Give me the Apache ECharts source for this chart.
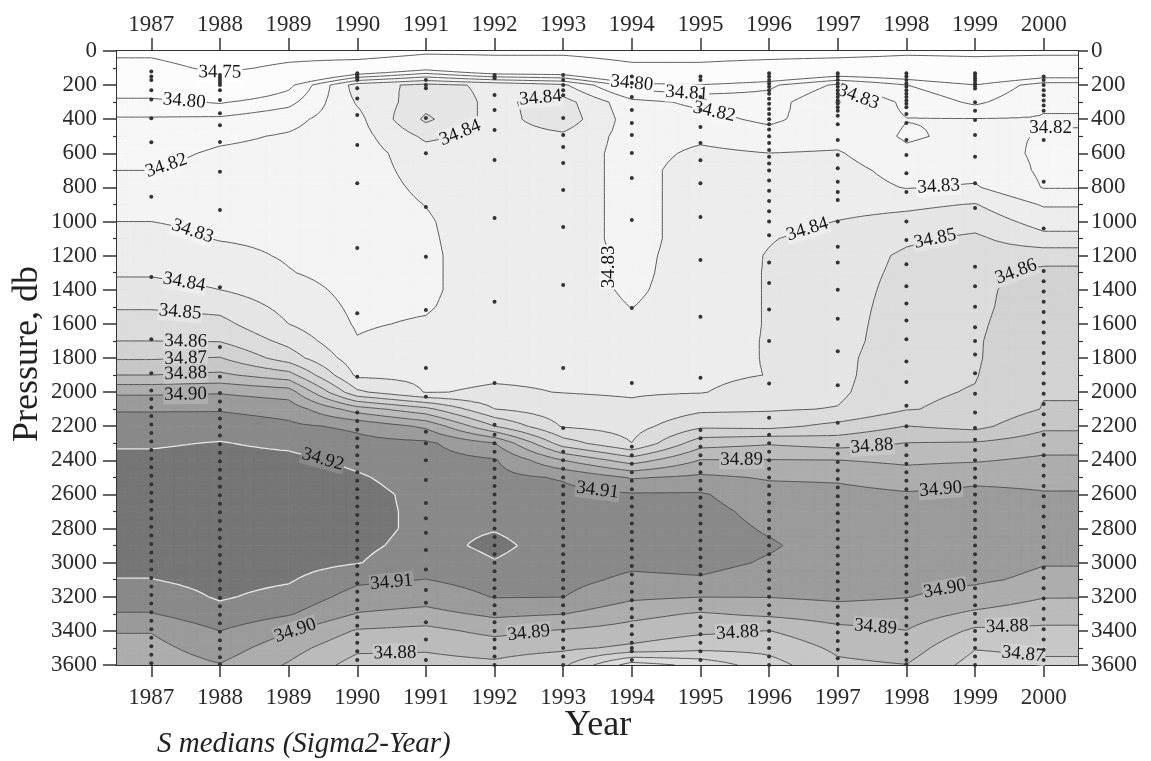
<!DOCTYPE html>
<html>
<head>
<meta charset="utf-8">
<script src="https://cdn.jsdelivr.net/npm/echarts@6.0.0/dist/echarts.min.js"></script>
<style>
html,body{margin:0;padding:0;background:#fff;}
#chart{width:1151px;height:761px;}
</style>
</head>
<body>
<div id="chart"></div>
<script>
// ---------------- data ----------------
const years = [1987,1988,1989,1990,1991,1992,1993,1994,1995,1996,1997,1998,1999,2000];
const tickYears = [1987,1988,1989,1990,1991,1992,1993,1994,1995,1996,1997,1998,1999,2000];
const pressures = [0,100,200,300,400,500,600,700,800,900,1000,1100,1200,1300,1400,1500,1600,1700,1800,1900,2000,2100,2200,2300,2400,2500,2600,2700,2800,2900,3000,3100,3200,3300,3400,3500,3600];

// median salinity profiles (one per year, one value per pressure level)
const s1987 = [34.74,34.765,34.79,34.803,34.811,34.814,34.817,34.820,34.823,34.826,34.830,34.833,34.836,34.839,34.843,34.849,34.855,34.860,34.869,34.880,34.898,34.909,34.915,34.919,34.922,34.924,34.925,34.925,34.925,34.924,34.922,34.9198,34.915,34.9095,34.9005,34.897,34.894];
const s1988 = [34.72,34.74,34.78,34.799,34.812,34.818,34.8215,34.8235,34.825,34.8265,34.828,34.8295,34.833,34.837,34.840,34.847,34.853,34.8595,34.8705,34.882,34.899,34.909,34.916,34.9205,34.923,34.925,34.926,34.926,34.926,34.925,34.924,34.923,34.921,34.917,34.910,34.905,34.8995];
const s1989 = [34.73,34.76,34.797,34.807,34.817,34.821,34.823,34.824,34.825,34.826,34.827,34.828,34.829,34.8305,34.834,34.837,34.840,34.847,34.855,34.874,34.895,34.906,34.912,34.918,34.9225,34.925,34.926,34.926,34.926,34.925,34.924,34.921,34.917,34.911,34.901,34.894,34.889];
const s1990 = [34.72,34.78,34.835,34.831,34.827,34.826,34.825,34.825,34.825,34.825,34.825,34.825,34.826,34.826,34.827,34.828,34.829,34.8305,34.834,34.838,34.852,34.885,34.908,34.913,34.918,34.921,34.923,34.923,34.923,34.922,34.9205,34.912,34.906,34.8995,34.889,34.882,34.876];
const s1991 = [34.74,34.795,34.843,34.846,34.852,34.842,34.836,34.834,34.832,34.8302,34.829,34.8285,34.828,34.828,34.828,34.829,34.831,34.834,34.836,34.838,34.8395,34.873,34.898,34.912,34.914,34.916,34.9175,34.918,34.918,34.917,34.914,34.9098,34.904,34.897,34.887,34.881,34.877];
const s1992 = [34.74,34.78,34.838,34.838,34.836,34.836,34.836,34.836,34.836,34.836,34.836,34.836,34.836,34.836,34.836,34.836,34.837,34.837,34.838,34.839,34.841,34.8502,34.8702,34.9003,34.911,34.913,34.915,34.917,34.9195,34.922,34.9195,34.914,34.9105,34.902,34.893,34.884,34.878];
const s1993 = [34.74,34.78,34.832,34.844,34.846,34.838,34.836,34.836,34.836,34.836,34.836,34.836,34.836,34.836,34.836,34.836,34.837,34.837,34.838,34.839,34.8398,34.844,34.849,34.865,34.8902,34.909,34.913,34.915,34.916,34.916,34.915,34.913,34.9102,34.9003,34.889,34.882,34.872];
const s1994 = [34.73,34.76,34.805,34.823,34.825,34.826,34.826,34.826,34.826,34.826,34.826,34.826,34.827,34.827,34.828,34.8298,34.833,34.836,34.837,34.838,34.839,34.842,34.846,34.8502,34.875,34.899,34.911,34.914,34.916,34.915,34.912,34.908,34.902,34.893,34.886,34.878,34.845];
const s1995 = [34.73,34.76,34.801,34.818,34.823,34.828,34.832,34.835,34.835,34.835,34.835,34.835,34.835,34.836,34.836,34.836,34.836,34.837,34.837,34.838,34.8395,34.848,34.858,34.876,34.8905,34.902,34.911,34.913,34.914,34.914,34.913,34.909,34.9002,34.889,34.882,34.873,34.853];
const s1996 = [34.73,34.77,34.808,34.815,34.818,34.824,34.8301,34.832,34.833,34.835,34.837,34.8395,34.8405,34.8405,34.8405,34.8405,34.8405,34.8405,34.8405,34.8402,34.844,34.849,34.857,34.879,34.8905,34.899,34.904,34.907,34.909,34.911,34.909,34.905,34.9003,34.892,34.8798,34.873,34.866];
const s1997 = [34.73,34.78,34.822,34.8305,34.826,34.826,34.831,34.834,34.835,34.837,34.8402,34.843,34.845,34.846,34.846,34.846,34.846,34.846,34.847,34.847,34.848,34.8505,34.863,34.876,34.8902,34.8985,34.903,34.905,34.906,34.906,34.905,34.904,34.902,34.895,34.887,34.882,34.878];
const s1998 = [34.74,34.78,34.8102,34.818,34.8202,34.819,34.8215,34.826,34.8295,34.838,34.843,34.8485,34.8515,34.852,34.853,34.854,34.855,34.856,34.857,34.858,34.8585,34.8595,34.8702,34.8803,34.888,34.895,34.901,34.903,34.904,34.904,34.904,34.903,34.9003,34.895,34.8898,34.885,34.8798];
const s1999 = [34.74,34.77,34.8005,34.808,34.8205,34.822,34.824,34.827,34.831,34.8405,34.846,34.852,34.855,34.857,34.858,34.858,34.8585,34.859,34.859,34.8595,34.8605,34.862,34.867,34.881,34.889,34.898,34.902,34.904,34.905,34.905,34.904,34.9015,34.8965,34.888,34.878,34.8705,34.866];
const s2000 = [34.74,34.78,34.815,34.819,34.8205,34.8195,34.8185,34.8185,34.8195,34.829,34.836,34.843,34.856,34.8625,34.864,34.865,34.866,34.867,34.868,34.869,34.8695,34.8705,34.878,34.8855,34.892,34.898,34.9005,34.903,34.903,34.902,34.9005,34.898,34.8905,34.884,34.878,34.872,34.868];
const profiles = [s1987,s1988,s1989,s1990,s1991,s1992,s1993,s1994,s1995,s1996,s1997,s1998,s1999,s2000];

// contour levels and their shading (lowest to highest)
const levels = [34.75,34.80,34.81,34.82,34.83,34.84,34.85,34.86,34.87,34.88,34.89,34.90,34.91,34.92];
const bandColors = ['#ffffff','#fcfcfc','#f9f9f9','#f7f7f7','#f4f4f4','#ededed','#e5e5e5','#dcdcdc','#d2d2d2','#c7c7c7','#bbbbbb','#adadad','#9b9b9b','#898989','#767676'];

// contour labels
const labelYears = [1988.0,1987.48,1987.22,1987.6,1987.48,1987.42,1987.5,1987.5,1987.5,1987.5,1989.5,1991.5,1992.67,1994.0,1994.8,1995.2,1997.3,2000.1,1998.47,1996.56,1998.42,1999.6,1993.75,1995.6,1997.5,1993.5,1998.5,1990.5,1989.1,1990.55,1992.5,1995.54,1997.55,1998.56,1999.47,1999.7];
const labelPressures = [165,290,700,1090,1380,1530,1695,1795,1895,2015,2400,540,330,180,215,345,270,420,797,1060,1100,1254,1266,2400,2340,2555,2590,3160,3420,3510,3480,3420,3395,3190,3355,3450];
const labelTexts = ['34.75','34.80','34.82','34.83','34.84','34.85','34.86','34.87','34.88','34.90','34.92','34.84','34.84','34.80','34.81','34.82','34.83','34.82','34.83','34.84','34.85','34.86','34.83','34.89','34.88','34.91','34.90','34.91','34.90','34.88','34.89','34.88','34.89','34.90','34.88','34.87'];

// sampled depths per year (dots)
const dotYears = [1987,1988,1990,1991,1992,1993,1994,1995,1996,1997,1998,1999,2000];
const d1987 = [120,150,170,230,285,395,535,855,1325,1690,1890,1990,2040,2090,2140,2190,2240,2290,2340,2390,2440,2490,2540,2590,2640,2690,2740,2790,2840,2890,2940,2990,3040,3090,3140,3190,3240,3290,3340,3390,3440,3490,3540,3590];
const d1988 = [140,155,170,185,200,230,287,365,435,533,708,932,1385,1735,1910,2005,2055,2105,2155,2205,2255,2305,2355,2405,2455,2505,2555,2605,2655,2705,2755,2805,2855,2905,2955,3005,3055,3105,3155,3205,3255,3305,3355,3405,3455,3505,3555,3595];
const d1990 = [130,140,150,160,170,218,278,375,551,775,1155,1537,1910,2120,2170,2220,2270,2320,2370,2420,2470,2520,2570,2620,2670,2720,2770,2820,2870,2920,2970,3020,3070,3120,3170,3220,3270,3320,3370,3420,3470,3520,3570];
const d1991 = [170,200,218,393,600,914,1207,1518,1858,2027,2233,2300,2400,2515,2650,2740,2825,2925,3040,3160,3235,3350,3450,3570];
const d1992 = [140,150,160,258,346,463,639,979,1470,1946,2192,2250,2300,2350,2400,2450,2500,2550,2600,2650,2700,2750,2800,2850,2900,2950,3000,3050,3100,3150,3200,3250,3300,3350,3400,3450,3500,3550,3600];
const d1993 = [140,170,200,230,260,393,492,563,657,815,1032,1372,1858,2210,2350,2400,2450,2500,2550,2600,2650,2700,2750,2800,2850,2900,2950,3000,3050,3100,3150,3200,3250,3300,3350,3400,3450,3500,3550,3600];
const d1994 = [150,188,270,346,422,492,598,745,991,1507,1946,2320,2370,2420,2470,2520,2570,2620,2670,2720,2770,2820,2870,2920,2970,3020,3070,3120,3170,3220,3270,3320,3370,3420,3470,3500,3520,3570];
const d1995 = [150,170,270,346,445,540,640,775,973,1225,1558,1916,2222,2270,2320,2370,2420,2470,2520,2570,2620,2670,2720,2770,2820,2870,2920,2970,3020,3070,3120,3170,3220,3270,3320,3370,3420,3470,3520,3570];
const d1996 = [130,150,170,190,210,230,250,280,310,340,370,400,430,460,500,540,580,620,660,700,760,820,880,940,1000,1080,1240,1360,1515,1700,1950,2150,2250,2300,2350,2400,2450,2500,2550,2600,2650,2700,2750,2800,2850,2900,2950,3000,3050,3100,3150,3200,3250,3300,3350,3400,3450,3500,3550,3600];
const d1997 = [130,150,170,190,210,230,250,270,290,310,330,350,380,430,522,610,688,767,826,873,1000,1148,1240,1400,1570,1760,1960,2180,2310,2360,2410,2460,2510,2560,2610,2660,2710,2760,2810,2860,2910,2960,3010,3060,3110,3160,3210,3260,3310,3360,3410,3460,3510,3560];
const d1998 = [130,150,170,190,210,230,250,270,290,310,330,370,422,522,610,717,826,1000,1108,1250,1380,1480,1580,1690,1820,1940,2080,2200,2310,2370,2420,2470,2520,2570,2620,2670,2720,2770,2820,2870,2920,2970,3020,3070,3120,3170,3220,3270,3320,3370,3420,3470,3520,3570,3595];
const d1999 = [130,145,160,175,190,205,220,300,350,405,492,620,775,920,1265,1380,1500,1620,1700,1780,1890,2010,2120,2210,2280,2340,2400,2450,2500,2550,2600,2650,2700,2750,2800,2850,2900,2950,3000,3050,3100,3150,3200,3250,3300,3350,3400,3450,3500,3550,3600];
const d2000 = [150,170,200,230,260,290,320,350,522,767,1040,1290,1350,1410,1470,1530,1590,1650,1710,1770,1830,1890,1950,2010,2070,2130,2190,2250,2310,2370,2430,2490,2550,2610,2670,2730,2790,2850,2910,2970,3030,3090,3150,3210,3270,3330,3390,3450,3510,3570];
const dotDepths = [d1987,d1988,d1990,d1991,d1992,d1993,d1994,d1995,d1996,d1997,d1998,d1999,d2000];

// ---------------- rendering helpers ----------------
const X_MIN = 1986.5, X_MAX = 2000.5;
const colX = [X_MIN].concat(years, [X_MAX]);
const colVals = [profiles[0]].concat(profiles, [profiles[profiles.length - 1]]);
const SERIF = '"Liberation Serif","DejaVu Serif",serif';

function bandOf(v) { let k = 0; while (k < levels.length && v >= levels[k]) k++; return k; }

function fieldAt(yr, p) {
  yr = Math.min(Math.max(yr, colX[0]), colX[colX.length - 1]);
  p = Math.min(Math.max(p, pressures[0]), pressures[pressures.length - 1]);
  let i = 0; while (i < colX.length - 2 && yr > colX[i + 1]) i++;
  let j = 0; while (j < pressures.length - 2 && p > pressures[j + 1]) j++;
  const u = (yr - colX[i]) / (colX[i + 1] - colX[i]);
  const w = (p - pressures[j]) / (pressures[j + 1] - pressures[j]);
  const A = colVals[i], B = colVals[i + 1];
  return A[j] * (1 - u) * (1 - w) + B[j] * u * (1 - w) + A[j + 1] * (1 - u) * w + B[j + 1] * u * w;
}

const NX = 6, NY = 2;
function buildTris(api, i, j) {
  const x0 = colX[i], x1 = colX[i + 1], p0 = pressures[j], p1 = pressures[j + 1];
  const A = colVals[i], B = colVals[i + 1];
  const v00 = A[j], v10 = B[j], v01 = A[j + 1], v11 = B[j + 1];
  const pts = [];
  for (let b = 0; b <= NY; b++) {
    for (let a = 0; a <= NX; a++) {
      const u = a / NX, w = b / NY;
      const c = api.coord([x0 + (x1 - x0) * u, p0 + (p1 - p0) * w]);
      pts.push({ x: c[0], y: c[1], v: v00 * (1 - u) * (1 - w) + v10 * u * (1 - w) + v01 * (1 - u) * w + v11 * u * w });
    }
  }
  const tris = [];
  for (let b = 0; b < NY; b++) {
    for (let a = 0; a < NX; a++) {
      const q00 = pts[b * (NX + 1) + a], q10 = pts[b * (NX + 1) + a + 1];
      const q01 = pts[(b + 1) * (NX + 1) + a], q11 = pts[(b + 1) * (NX + 1) + a + 1];
      const c = { x: (q00.x + q11.x) / 2, y: (q00.y + q11.y) / 2, v: (q00.v + q10.v + q01.v + q11.v) / 4 };
      tris.push([q00, q10, c], [q10, q11, c], [q11, q01, c], [q01, q00, c]);
    }
  }
  return tris;
}

function clip(poly, L, above) {
  const out = [];
  const n = poly.length;
  for (let m = 0; m < n; m++) {
    const a = poly[m], b = poly[(m + 1) % n];
    const ia = above ? a.v >= L : a.v < L;
    const ib = above ? b.v >= L : b.v < L;
    if (ia) out.push(a);
    if (ia !== ib) {
      const t = (L - a.v) / (b.v - a.v);
      out.push({ x: a.x + (b.x - a.x) * t, y: a.y + (b.y - a.y) * t, v: L });
    }
  }
  return out;
}
function polyStr(poly) {
  let s = 'M' + poly[0].x.toFixed(2) + ' ' + poly[0].y.toFixed(2);
  for (let m = 1; m < poly.length; m++) s += 'L' + poly[m].x.toFixed(2) + ' ' + poly[m].y.toFixed(2);
  return s + 'Z';
}

function renderFill(params, api) {
  const tris = buildTris(api, api.value(2), api.value(3));
  const paths = bandColors.map(() => '');
  for (const t of tris) {
    const vmin = Math.min(t[0].v, t[1].v, t[2].v), vmax = Math.max(t[0].v, t[1].v, t[2].v);
    const b0 = bandOf(vmin), b1 = bandOf(vmax);
    if (b0 === b1) { paths[b0] += polyStr(t); continue; }
    for (let k = b0; k <= b1; k++) {
      let poly = t;
      if (k > 0) poly = clip(poly, levels[k - 1], true);
      if (poly.length >= 3 && k < levels.length) poly = clip(poly, levels[k], false);
      if (poly.length >= 3) paths[k] += polyStr(poly);
    }
  }
  const children = [];
  paths.forEach((d, k) => {
    if (d) children.push({ type: 'path', shape: { pathData: d }, style: { fill: bandColors[k], stroke: bandColors[k], lineWidth: 0.7 } });
  });
  return { type: 'group', children };
}

function renderLines(params, api) {
  const tris = buildTris(api, api.value(2), api.value(3));
  const segs = levels.map(() => '');
  for (const t of tris) {
    const vmin = Math.min(t[0].v, t[1].v, t[2].v), vmax = Math.max(t[0].v, t[1].v, t[2].v);
    for (let k = 0; k < levels.length; k++) {
      const L = levels[k];
      if (!(vmin < L && vmax >= L)) continue;
      const ps = [];
      for (let m = 0; m < 3; m++) {
        const a = t[m], b = t[(m + 1) % 3];
        if ((a.v >= L) !== (b.v >= L)) {
          const r = (L - a.v) / (b.v - a.v);
          ps.push([a.x + (b.x - a.x) * r, a.y + (b.y - a.y) * r]);
        }
      }
      if (ps.length === 2) segs[k] += 'M' + ps[0][0].toFixed(2) + ' ' + ps[0][1].toFixed(2) + 'L' + ps[1][0].toFixed(2) + ' ' + ps[1][1].toFixed(2);
    }
  }
  const children = [];
  segs.forEach((d, k) => {
    if (!d) return;
    const top = k === levels.length - 1;
    children.push({ type: 'path', shape: { pathData: d }, style: { fill: 'none', stroke: top ? '#e8e8e8' : '#4d4d4d', lineWidth: top ? 1.3 : 0.9 } });
  });
  return { type: 'group', children };
}

function renderLabel(params, api) {
  let yr = api.value(0), p = api.value(1);
  const text = labelTexts[api.value(2)];
  const L = parseFloat(text);
  const base = api.coord([yr, p]);
  let best = null;
  let prevP = p - 240, prev = fieldAt(yr, prevP) - L;
  for (let d = -235; d <= 240; d += 5) {
    const pp = p + d, cur = fieldAt(yr, pp) - L;
    if (prev * cur <= 0 && prev !== cur) {
      const q = prevP + (pp - prevP) * prev / (prev - cur);
      const c = api.coord([yr, q]);
      const dist = Math.abs(c[1] - base[1]);
      if (!best || dist < best.dist) best = { yr: yr, p: q, dist: dist };
    }
    prev = cur; prevP = pp;
  }
  let prevY = yr - 0.6; prev = fieldAt(prevY, p) - L;
  for (let d = -0.59; d <= 0.6; d += 0.01) {
    const yy = yr + d, cur = fieldAt(yy, p) - L;
    if (prev * cur <= 0 && prev !== cur) {
      const q = prevY + (yy - prevY) * prev / (prev - cur);
      const c = api.coord([q, p]);
      const dist = Math.abs(c[0] - base[0]);
      if (!best || dist < best.dist) best = { yr: q, p: p, dist: dist };
    }
    prev = cur; prevY = yy;
  }
  if (best && best.dist < 42) { yr = best.yr; p = best.p; }
  const pos = api.coord([yr, p]);
  const h = 0.05, k = 20;
  const ax = api.coord([yr + h, p]), bx = api.coord([yr - h, p]);
  const cy = api.coord([yr, p + k]), dy = api.coord([yr, p - k]);
  const gx = (fieldAt(yr + h, p) - fieldAt(yr - h, p)) / (ax[0] - bx[0]);
  const gy = (fieldAt(yr, p + k) - fieldAt(yr, p - k)) / (cy[1] - dy[1]);
  let ang = 0;
  if (gx !== 0 || gy !== 0) {
    ang = Math.atan2(-gx, -gy);
    if (ang > Math.PI / 2) ang -= Math.PI;
    if (ang <= -Math.PI / 2) ang += Math.PI;
  }
  const bg = bandColors[bandOf(L - 1e-6)];
  return {
    type: 'text', x: pos[0], y: pos[1], rotation: ang, z2: 10,
    style: { text: text, x: 0, y: 0, fill: '#151515', font: '19px ' + SERIF, align: 'center', verticalAlign: 'middle', backgroundColor: bg, padding: [0, 1] }
  };
}

// ---------------- series data ----------------
const cellData = [];
for (let i = 0; i < colX.length - 1; i++) {
  for (let j = 0; j < pressures.length - 1; j++) cellData.push([colX[i], pressures[j], i, j]);
}
const labelData = labelTexts.map((t, n) => [labelYears[n], labelPressures[n], n]);
const dotData = [];
dotYears.forEach((y, n) => dotDepths[n].forEach(p => dotData.push([y, p])));

// ---------------- chart ----------------
const AX = '#333';
const plain = v => String(Math.round(v));
const tickFont = { fontFamily: SERIF, fontSize: 23, color: '#2b2b2b', formatter: plain };
function xAx(pos, inside, len, labels, margin) {
  return {
    type: 'value', position: pos, min: X_MIN, max: X_MAX,
    axisLine: { show: true, onZero: false, lineStyle: { color: AX, width: 2 } },
    axisTick: { show: true, inside: inside, length: len, customValues: tickYears, lineStyle: { color: AX, width: 1.5 } },
    axisLabel: Object.assign({ show: labels, margin: margin, customValues: tickYears }, tickFont),
    splitLine: { show: false }
  };
}
function yAx(pos, inside, len, minorLen, labels, margin) {
  return {
    type: 'value', position: pos, inverse: true, min: 0, max: 3600, interval: 200,
    axisLine: { show: true, onZero: false, lineStyle: { color: AX, width: 2 } },
    axisTick: { show: true, inside: inside, length: len, lineStyle: { color: AX, width: 1.5 } },
    minorTick: { show: true, splitNumber: 2, length: minorLen, lineStyle: { color: AX, width: 1.2 } },
    axisLabel: Object.assign({ show: labels, margin: margin }, tickFont),
    splitLine: { show: false }, minorSplitLine: { show: false }
  };
}

const chart = echarts.init(document.getElementById('chart'), null, { renderer: 'canvas' });
chart.setOption({
  animation: false,
  backgroundColor: '#ffffff',
  grid: { left: 117, right: 73, top: 51, bottom: 96, containLabel: false, outerBoundsMode: 'none' },
  xAxis: [
    xAx('bottom', false, 12, true, 21),
    xAx('bottom', true, 10, false, 8),
    xAx('top', false, 13, true, 15),
    xAx('top', true, 10, false, 8)
  ],
  yAxis: [
    yAx('left', false, 14, 4, true, 20),
    yAx('left', true, 11, 10, false, 8),
    yAx('right', false, 10, 5, true, 13),
    yAx('right', true, 12, 4, false, 8)
  ],
  graphic: [
    { type: 'text', x: 28, y: 354, rotation: Math.PI / 2, style: { text: 'Pressure, db', font: '36px ' + SERIF, fill: '#222', align: 'center', verticalAlign: 'middle' } },
    { type: 'text', x: 598, y: 726, style: { text: 'Year', font: '36px ' + SERIF, fill: '#222', align: 'center', verticalAlign: 'middle' } },
    { type: 'text', x: 157, y: 744, style: { text: 'S medians (Sigma2-Year)', font: 'italic 29px ' + SERIF, fill: '#222', align: 'left', verticalAlign: 'middle' } }
  ],
  series: [
    { type: 'custom', name: 'fill', data: cellData, encode: { x: 0, y: 1 }, renderItem: renderFill, clip: true, silent: true, z: 1 },
    { type: 'custom', name: 'contours', data: cellData, encode: { x: 0, y: 1 }, renderItem: renderLines, clip: true, silent: true, z: 2 },
    { type: 'custom', name: 'labels', data: labelData, encode: { x: 0, y: 1 }, renderItem: renderLabel, clip: false, silent: true, z: 3 },
    { type: 'scatter', name: 'samples', data: dotData, symbol: 'circle', symbolSize: 4, itemStyle: { color: '#333', opacity: 1 }, silent: true, z: 4 }
  ]
});
</script>
</body>
</html>
